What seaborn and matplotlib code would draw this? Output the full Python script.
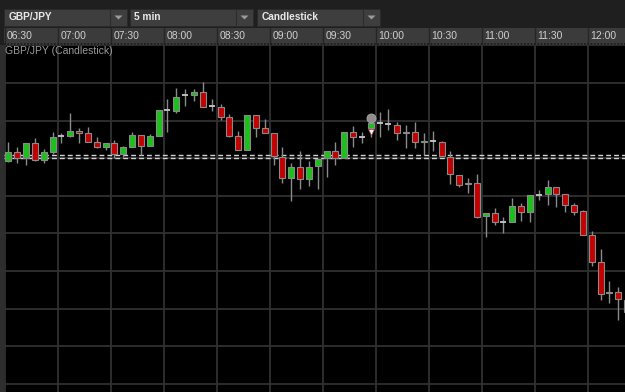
import numpy as np
import pandas as pd
import matplotlib
matplotlib.use("Agg")
import matplotlib.pyplot as plt
from matplotlib.patches import Rectangle, Polygon
import seaborn as sns

# ----------------------------------------------------
# Data: GBP/JPY 5 min candles starting 06:30
# ----------------------------------------------------
opens = [147.593, 147.617, 147.600, 147.640, 147.595, 147.617, 147.660, 147.660, 147.672, 147.668,
         147.644, 147.629, 147.640, 147.610, 147.629, 147.662, 147.632, 147.660, 147.728, 147.726,
         147.768, 147.768, 147.775, 147.738, 147.737, 147.709, 147.660, 147.622, 147.715, 147.681,
         147.666, 147.604, 147.548, 147.577, 147.545, 147.579, 147.601, 147.620, 147.600, 147.670,
         147.657, 147.681, 147.693, 147.691, 147.688, 147.668, 147.670, 147.643, 147.646, 147.644,
         147.604, 147.555, 147.532, 147.535, 147.447, 147.455, 147.431, 147.430, 147.474, 147.456,
         147.502, 147.504, 147.524, 147.504, 147.476, 147.460, 147.396, 147.323, 147.241, 147.245,
         147.223]
highs = [147.642, 147.631, 147.640, 147.653, 147.624, 147.670, 147.666, 147.721, 147.680, 147.684,
         147.656, 147.641, 147.648, 147.633, 147.669, 147.662, 147.664, 147.728, 147.757, 147.786,
         147.783, 147.783, 147.803, 147.757, 147.744, 147.718, 147.673, 147.715, 147.715, 147.703,
         147.666, 147.629, 147.586, 147.619, 147.593, 147.598, 147.620, 147.642, 147.670, 147.686,
         147.670, 147.693, 147.724, 147.730, 147.697, 147.688, 147.697, 147.668, 147.672, 147.645,
         147.619, 147.555, 147.547, 147.558, 147.455, 147.467, 147.444, 147.493, 147.480, 147.502,
         147.514, 147.542, 147.524, 147.504, 147.481, 147.462, 147.405, 147.358, 147.273, 147.257,
         147.228]
lows = [147.590, 147.586, 147.581, 147.593, 147.586, 147.611, 147.639, 147.657, 147.640, 147.643,
        147.626, 147.622, 147.600, 147.604, 147.629, 147.609, 147.632, 147.660, 147.670, 147.719,
        147.740, 147.752, 147.737, 147.725, 147.702, 147.655, 147.622, 147.622, 147.657, 147.666,
        147.582, 147.533, 147.487, 147.518, 147.526, 147.517, 147.551, 147.582, 147.600, 147.631,
        147.640, 147.657, 147.655, 147.675, 147.648, 147.626, 147.626, 147.609, 147.620, 147.605,
        147.531, 147.524, 147.508, 147.440, 147.391, 147.422, 147.400, 147.430, 147.433, 147.430,
        147.489, 147.476, 147.469, 147.458, 147.449, 147.396, 147.314, 147.223, 147.216, 147.170,
        147.183]
closes = [147.617, 147.601, 147.640, 147.595, 147.617, 147.657, 147.660, 147.672, 147.668, 147.644,
          147.629, 147.641, 147.610, 147.629, 147.662, 147.632, 147.660, 147.728, 147.728, 147.764,
          147.768, 147.775, 147.737, 147.738, 147.710, 147.660, 147.622, 147.715, 147.681, 147.666,
          147.607, 147.548, 147.577, 147.545, 147.577, 147.598, 147.620, 147.601, 147.670, 147.657,
          147.657, 147.693, 147.693, 147.691, 147.666, 147.670, 147.642, 147.645, 147.646, 147.606,
          147.557, 147.529, 147.534, 147.444, 147.455, 147.431, 147.431, 147.474, 147.456, 147.502,
          147.502, 147.524, 147.504, 147.476, 147.458, 147.396, 147.323, 147.239, 147.243, 147.226,
          147.191]

bar_minutes = 5
time_labels = ["06:30", "07:00", "07:30", "08:00", "08:30", "09:00",
               "09:30", "10:00", "10:30", "11:00", "11:30", "12:00"]
price_grid = [147.0, 147.1, 147.2, 147.3, 147.4, 147.5, 147.6, 147.7, 147.8, 147.9]
order_lines = [147.609, 147.600]
alert_bar = 41
alert_price = 147.706
trade_price = 147.670

toolbar_items = ["GBP/JPY", "5 min", "Candlestick"]
chart_caption = "GBP/JPY (Candlestick)"

# ----------------------------------------------------
# Style
# ----------------------------------------------------
sns.set_theme(style="dark", rc={
    "figure.facecolor": "#1f1f1f",
    "axes.facecolor": "#000000",
    "grid.color": "#303030",
    "grid.linewidth": 1.3,
})
plt.rcParams["font.family"] = ["Liberation Sans", "DejaVu Sans"]

W, H = 625, 392
GREEN = "#1cbf1c"
RED = "#c30000"
EDGE = "#8a8a8a"

df = pd.DataFrame({"open": opens, "high": highs, "low": lows, "close": closes})
df["t"] = np.arange(len(df)) * bar_minutes + 1.9
up = df[df.close > df.open]
down = df[df.close < df.open]
flat = df[df.close == df.open]

fig = plt.figure(figsize=(W / 100, H / 100), dpi=100)

def fx(px):
    return px / W

def fy(py):
    return 1 - py / H

# main chart
ax = fig.add_axes([fx(4), 0, fx(621), (H - 45) / H])
px_per_min = 8.84 / bar_minutes
ax.set_xlim((4 - 5) / px_per_min, (625 - 5) / px_per_min)
ax.set_ylim(146.978, 147.901)
ax.set_xticks(np.arange(len(time_labels)) * 30)
ax.set_yticks(price_grid)
ax.tick_params(left=False, bottom=False, labelleft=False, labelbottom=False)
ax.grid(True)
for s in ax.spines.values():
    s.set_visible(False)

for p in order_lines:
    ax.axhline(p, color="#d2d2d2", lw=1.0, ls=(0, (3.5, 2.2)), zorder=2)

body_w = 3.4
ax.vlines(df.t, df.low, df.high, color=EDGE, lw=1.0, zorder=3)
ax.bar(up.t, up.close - up.open, bottom=up.open, width=body_w,
       color=GREEN, edgecolor=EDGE, linewidth=0.8, zorder=4)
ax.bar(down.t, down.open - down.close, bottom=down.close, width=body_w,
       color=RED, edgecolor=EDGE, linewidth=0.8, zorder=4)
ax.hlines(flat.close, flat.t - body_w / 2, flat.t + body_w / 2,
          color="#c8c8c8", lw=1.3, zorder=4)

ax.plot(df.t[alert_bar], alert_price, "o", ms=6.5, color="#8e8e8e",
        mec="#a8a8a8", mew=0.6, zorder=5)
ax.plot(df.t[alert_bar], trade_price, "v", ms=5, color="#f4f4f4",
        mec="#b04040", mew=0.5, zorder=5)

ax.text(fx(1) / fx(621), 1 - 6 / (H - 45), chart_caption, transform=ax.transAxes,
        ha="left", va="center", fontsize=7.5, color="#9a9a9a")

# time header
hx = fig.add_axes([fx(4), fy(45), fx(621), 17 / H])
hx.set_facecolor("#3b3b3b")
hx.set_xlim(ax.get_xlim())
hx.set_ylim(0, 1)
hx.set_xticks([])
hx.set_yticks([])
for s in hx.spines.values():
    s.set_visible(False)
for i, lab in enumerate(time_labels):
    m = i * 30
    hx.axvline(m, color="#262626", lw=1.0)
    hx.text(m + 1.2, 0.55, lab, ha="left", va="center", fontsize=7.5, color="#cfcfcf")
hx.axhline(0.03, color="#1a1a1a", lw=1.2, ls=(0, (1, 1)))

# left border strip
fig.add_artist(Rectangle((0, 0), fx(4), fy(45), transform=fig.transFigure,
                         facecolor="#2e2e2e", edgecolor="none"))

# toolbar dropdowns
boxes = [(4, 127), (130, 253), (257, 380)]
for (x0, x1), label in zip(boxes, toolbar_items):
    fig.add_artist(Rectangle((fx(x0), fy(26)), fx(x1 - x0), 17 / H,
                             transform=fig.transFigure, facecolor="#3e3e3e",
                             edgecolor="#2a2a2a", lw=0.6))
    fig.add_artist(plt.Line2D([fx(x1 - 17), fx(x1 - 17)], [fy(25), fy(10)],
                              transform=fig.transFigure, color="#2c2c2c", lw=0.8))
    ax_c = x1 - 8.5
    fig.add_artist(Polygon([(fx(ax_c - 4), fy(15.5)), (fx(ax_c + 4), fy(15.5)),
                            (fx(ax_c), fy(19.5))], closed=True,
                           transform=fig.transFigure, facecolor="#9a9a9a",
                           edgecolor="none"))
    fig.text(fx(x0 + 4.5), fy(17.5), label, ha="left", va="center",
             fontsize=7.3, fontweight="bold", color="#e8e8e8")

fig.savefig("out.png", dpi=100, facecolor=fig.get_facecolor())
